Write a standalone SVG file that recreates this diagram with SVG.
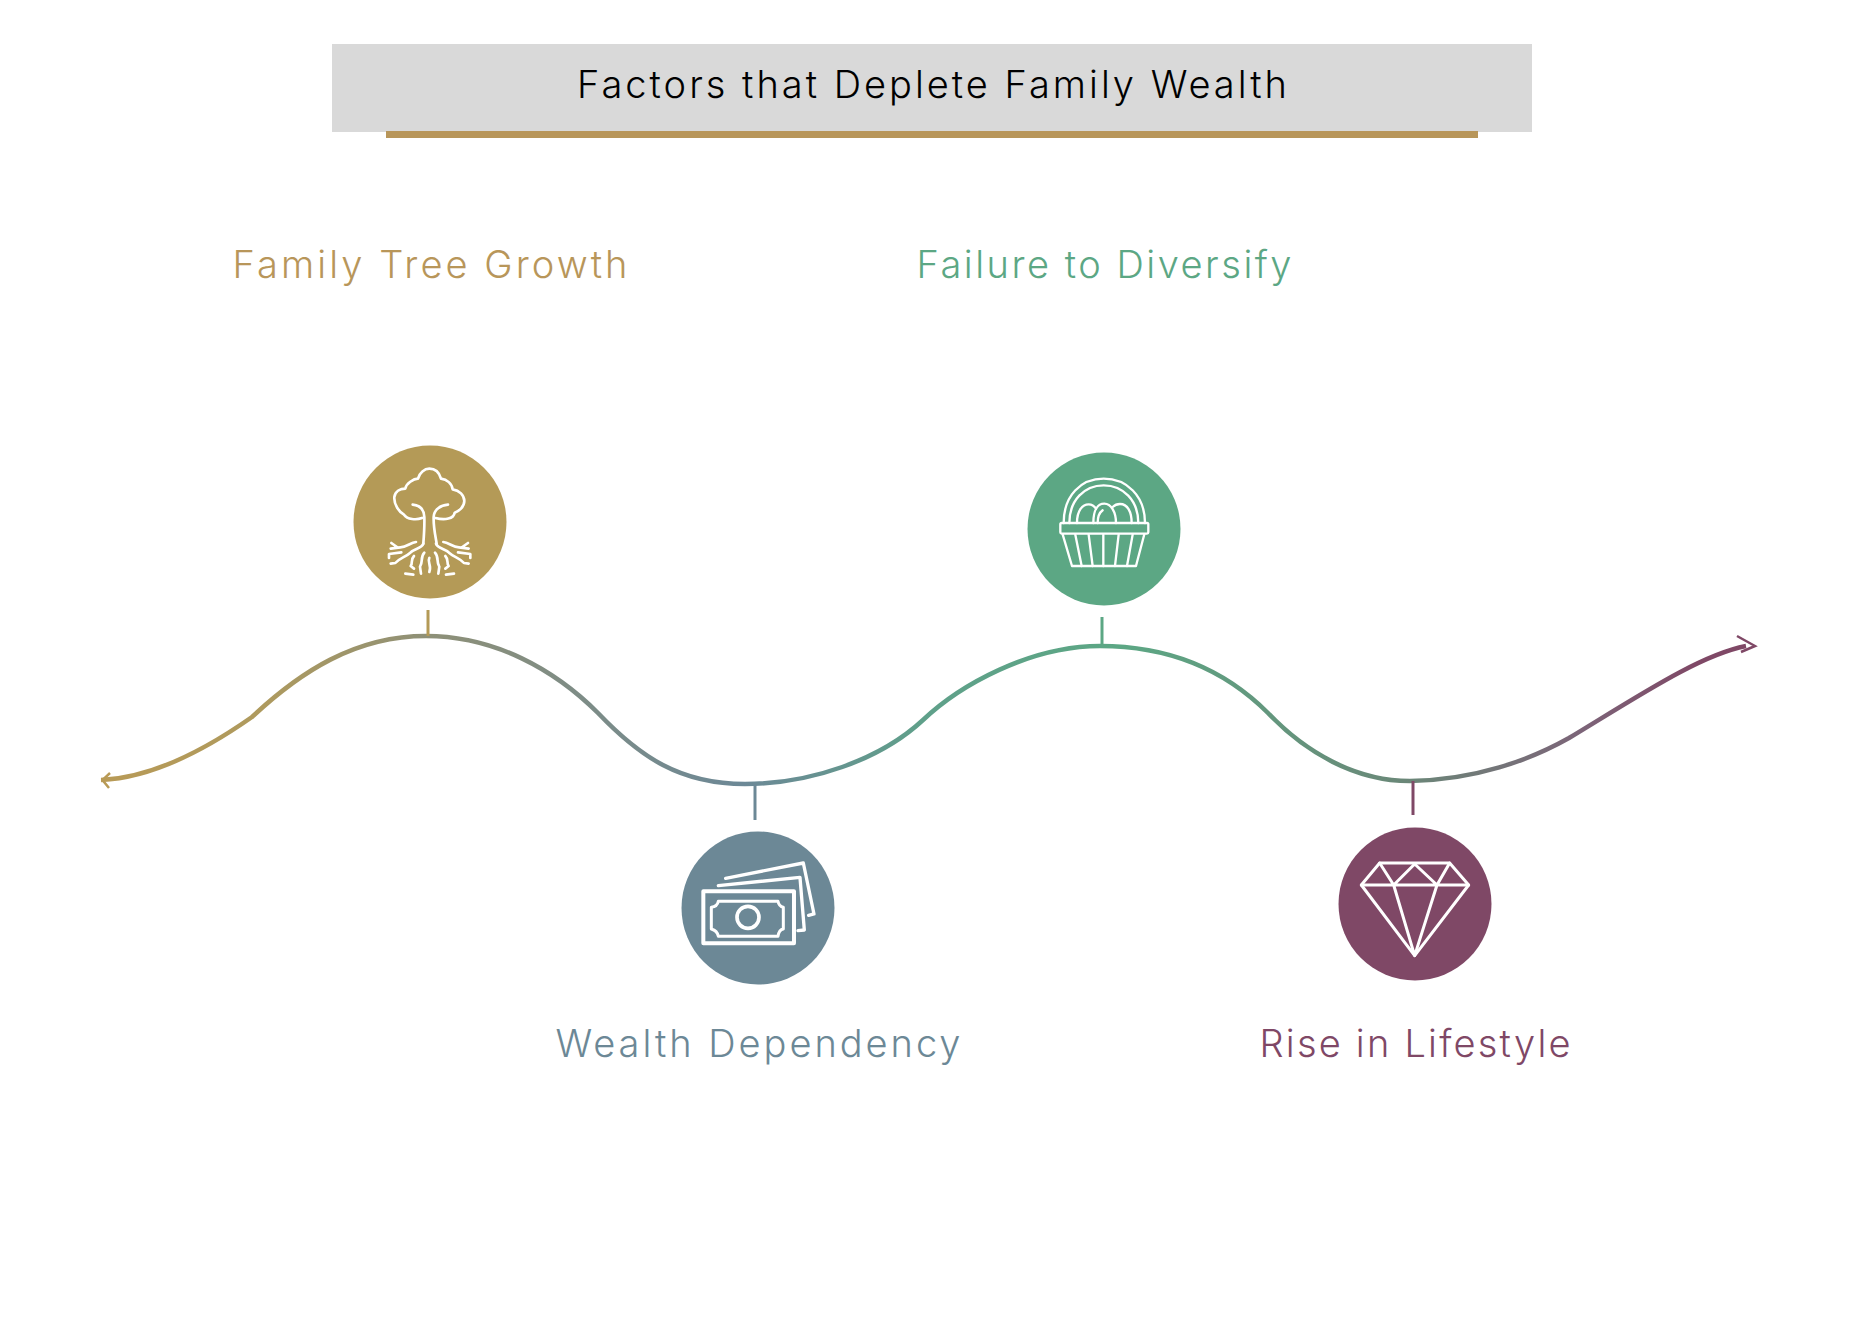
<svg xmlns="http://www.w3.org/2000/svg" xmlns:xlink="http://www.w3.org/1999/xlink" width="1856" height="1335" viewBox="0 0 1856 1335">
<style>
text{font-family:Inter,"Open Sans","Liberation Sans",sans-serif;font-weight:300;font-size:38px;text-anchor:middle}
.ic{fill:none;stroke:#fff;stroke-linecap:round;stroke-linejoin:round}
.tick{stroke-width:3;fill:none}
</style>
<defs>
<linearGradient id="curveGrad" gradientUnits="userSpaceOnUse" x1="101" y1="0" x2="1746" y2="0">
<stop offset="0" stop-color="#B89A56"/>
<stop offset=".1" stop-color="#AE9A5E"/>
<stop offset=".198" stop-color="#8E9077"/>
<stop offset=".39" stop-color="#6C8896"/>
<stop offset=".5" stop-color="#5FA08A"/>
<stop offset=".62" stop-color="#5CA784"/>
<stop offset=".79" stop-color="#6A8878"/>
<stop offset=".9" stop-color="#7C6478"/>
<stop offset=".97" stop-color="#7F4866"/>
<stop offset="1" stop-color="#7F4866"/>
</linearGradient>
<g id="roots">
<path d="M222 330C205 332 195 345 175 346L146 350M148 333L165 345"/>
<path d="M244 335C240 350 215 350 205 362C190 376 172 378 160 393L146 395M141 378L141 366L178 361"/>
<path d="M247 362C234 376 244 390 234 404L237 425M216 372C204 385 214 392 206 402L216 410M190 425L214 428"/>
</g>
</defs>
<rect width="1856" height="1335" fill="#fff"/>
<g id="title">
<rect x="332" y="44" width="1200" height="88" fill="#D9D9D9"/>
<rect x="386" y="131" width="1092" height="7" fill="#B8965A"/>
<text x="932" y="98" fill="#000" textLength="710" lengthAdjust="spacing">Factors that Deplete Family Wealth</text>
</g>
<g id="connectors">
<path d="M101 780C150 778 205 750 252 717C300 672 355 636 426 636C495 636 555 670 598 713C640 757 680 784 745 784C810 784 880 760 923 720C960 685 1030 646 1100 646C1170 646 1225 670 1268 713C1305 752 1355 781 1410 781C1475 780 1530 760 1569 738C1640 695 1700 655 1746 646" fill="none" stroke="url(#curveGrad)" stroke-width="4.5"/>
<path d="M110 773L102.500 780L109 788" fill="none" stroke="#B89A56" stroke-width="2.500"/>
<path d="M1737 636L1755 646L1741 652" fill="none" stroke="#7F4866" stroke-width="2.500"/>
<path class="tick" stroke="#B49A57" d="M428 610V636"/>
<path class="tick" stroke="#6C8896" d="M755 784V820"/>
<path class="tick" stroke="#5CA784" d="M1102 617V645"/>
<path class="tick" stroke="#7F4866" d="M1413 781V815"/>
</g>
<g id="node-family-tree">
<circle cx="430" cy="522" r="76.500" fill="#B49A57"/>
<g class="ic" stroke-width="8" transform="translate(342 432) scale(.3333)">
<path d="M240 258C222 265 196 262 186 248C172 240 155 218 157 195C160 178 175 170 190 170C192 155 215 140 228 140C232 122 248 110 262 110C280 110 292 122 297 140C315 142 330 155 332 172C352 175 367 190 367 207C367 225 350 238 338 242C335 260 310 266 280 258"/>
<path d="M212 218C232 220 246 232 247 255C248 285 246 310 244 335"/>
<path d="M318 218C296 220 276 232 275 255C274 285 280 310 284 335"/>
<use xlink:href="#roots" href="#roots"/>
<use xlink:href="#roots" href="#roots" transform="translate(526 0) scale(-1 1)"/>
<path d="M262 378C255 390 270 400 262 420"/>
</g>
<text x="430" y="278" fill="#B8965A" textLength="395" lengthAdjust="spacing">Family Tree Growth</text>
</g>
<g id="node-wealth-dependency">
<circle cx="758" cy="908" r="76.500" fill="#6C8896"/>
<g class="ic" transform="translate(674 814) scale(.3333)">
<rect x="88" y="232" width="272" height="156" stroke-width="12"/>
<path stroke-width="9" d="M133 262H312Q315 278 328 280V345Q315 347 312 367H133Q130 350 112 345V280Q130 278 133 262Z"/>
<circle cx="222" cy="310" r="33" stroke-width="11"/>
<path stroke-width="10" d="M133 215L378 190L391 348L372 350"/>
<path stroke-width="10" d="M155 193L388 147L420 300L404 304"/>
</g>
<text x="758" y="1057" fill="#6C8896" textLength="405" lengthAdjust="spacing">Wealth Dependency</text>
</g>
<g id="node-failure-diversify">
<circle cx="1104" cy="529" r="76.500" fill="#5CA784"/>
<g class="ic" stroke-width="7" transform="translate(1016 442) scale(.3333)">
<path d="M143 243C143 160 195 110 263 110C331 110 387 160 387 243"/>
<path d="M160 243C160 175 205 130 263 130C321 130 367 175 367 243"/>
<rect x="133" y="243" width="264" height="32" rx="4"/>
<path d="M140 277L168 372H360L385 277"/>
<path d="M178 278L197 372M218 278L230 372M262 278V372M308 278L297 372M350 278L333 372"/>
<path d="M183 243C183 205 200 187 218 187C228 187 235 192 240 200"/>
<path d="M232 243C232 205 245 185 265 185C285 185 300 210 300 243"/>
<path d="M290 195C297 188 305 186 312 186C335 186 347 210 347 243"/>
<path d="M245 243C245 225 250 212 260 205"/>
</g>
<text x="1104" y="278" fill="#5CA784" textLength="375" lengthAdjust="spacing">Failure to Diversify</text>
</g>
<g id="node-rise-lifestyle">
<circle cx="1415" cy="904" r="76.500" fill="#7F4866"/>
<g class="ic" stroke-width="9" transform="translate(1332 814) scale(.3333)">
<path d="M143 147H353L410 213L248 425L88 213Z"/>
<path d="M88 213H410M143 147L185 213L248 150L315 213L353 147M185 213L248 425L315 213"/>
</g>
<text x="1415" y="1057" fill="#7F4866" textLength="311" lengthAdjust="spacing">Rise in Lifestyle</text>
</g>
</svg>
